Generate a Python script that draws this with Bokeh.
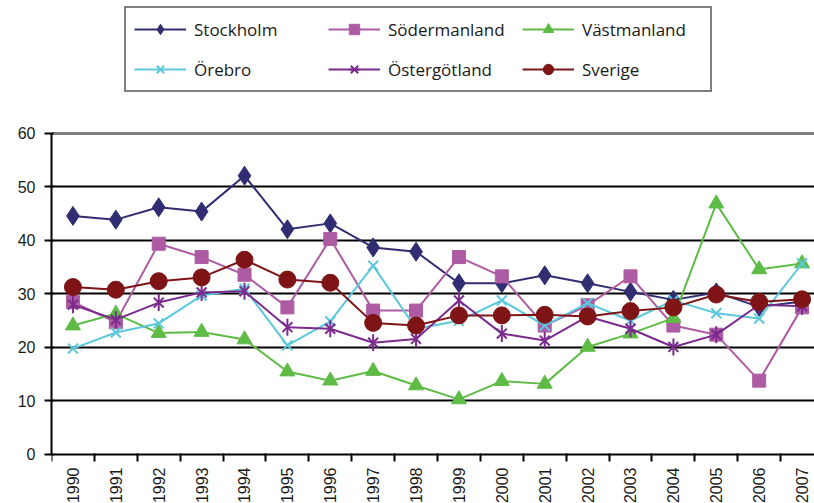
from bokeh.plotting import figure
from bokeh.models import Range1d, FixedTicker, Grid, Legend, LegendItem
from bokeh.embed import file_html
from bokeh.resources import INLINE
import math

years = list(range(1990, 2008))
stockholm = [44.6, 43.9, 46.2, 45.4, 52.1, 42.1, 43.2, 38.7, 37.9, 32.0, 32.0, 33.5, 32.0, 30.4, 28.9, 30.3, 27.6, 28.6]
sodermanland = [28.5, 24.7, 39.4, 36.9, 33.6, 27.5, 40.3, 26.9, 26.9, 36.9, 33.3, 24.1, 27.9, 33.3, 24.1, 22.4, 13.8, 27.5]
vastmanland = [24.1, 26.3, 22.7, 22.9, 21.5, 15.5, 13.8, 15.6, 12.9, 10.3, 13.7, 13.2, 20.1, 22.6, 25.5, 46.9, 34.6, 35.7]
orebro = [19.8, 22.8, 24.5, 29.7, 31.0, 20.4, 24.9, 35.3, 23.5, 25.0, 28.8, 24.1, 28.3, 25.0, 28.8, 26.4, 25.4, 35.7]
ostergotland = [28.0, 25.2, 28.4, 30.3, 30.5, 23.8, 23.5, 20.9, 21.6, 28.8, 22.6, 21.3, 25.8, 23.5, 20.1, 22.4, 28.0, 27.7]
sverige = [31.3, 30.8, 32.4, 33.1, 36.4, 32.7, 32.1, 24.6, 24.1, 26.0, 26.0, 26.1, 25.8, 26.8, 27.5, 29.9, 28.5, 29.0]
y_ticks = [0, 10, 20, 30, 40, 50, 60]

p = figure(width=814, height=503, output_backend="svg", toolbar_location=None,
           x_range=Range1d(1989.5, 2007.29), y_range=Range1d(-9.16, 84.86),
           min_border_left=51, min_border_right=0, min_border_top=0, min_border_bottom=0,
           outline_line_color=None, background_fill_color="white")

p.xgrid.visible = False
p.ygrid.ticker = FixedTicker(ticks=y_ticks[1:-1])
p.ygrid.grid_line_color = "black"
p.ygrid.grid_line_width = 2
top_grid = Grid(dimension=1, ticker=FixedTicker(ticks=[60]), grid_line_color="#808080", grid_line_width=3)
p.add_layout(top_grid)

xa = p.xaxis[0]
xa.fixed_location = 0
xa.ticker = FixedTicker(ticks=years, minor_ticks=[y - 0.5 for y in years] + [years[-1] + 0.5])
xa.major_tick_out = 0
xa.major_tick_in = 0
xa.minor_tick_out = 7
xa.minor_tick_in = 1
xa.minor_tick_line_color = "black"
xa.minor_tick_line_width = 2
xa.axis_line_color = "black"
xa.axis_line_width = 2
xa.major_label_orientation = math.pi / 2
xa.major_label_standoff = 6
xa.major_label_text_font = "Liberation Sans"
xa.major_label_text_font_size = "16px"
xa.major_label_text_color = "#1a1a1a"

ya = p.yaxis[0]
ya.bounds = (0, 60)
ya.ticker = FixedTicker(ticks=y_ticks)
ya.major_tick_out = 7
ya.major_tick_in = 2
ya.major_tick_line_width = 2
ya.major_tick_line_color = "black"
ya.minor_tick_line_color = None
ya.axis_line_width = 2
ya.axis_line_color = "black"
ya.major_label_standoff = 9
ya.major_label_text_font = "Liberation Sans"
ya.major_label_text_font_size = "16px"
ya.major_label_text_color = "#1a1a1a"

series = [
    ("Stockholm", stockholm, "#312D72", "diamond", 19),
    ("Södermanland", sodermanland, "#AD5CA3", "square", 13),
    ("Västmanland", vastmanland, "#5DBB46", "triangle", 15),
    ("Örebro", orebro, "#5BC8DC", "x", 14),
    ("Östergötland", ostergotland, "#7B2A8E", "asterisk", 14),
    ("Sverige", sverige, "#7E1416", "circle", 17),
]

items = []
for name, vals, col, marker, size in series:
    rl = p.line(years, vals, line_color=col, line_width=2)
    rends = [rl]
    if marker == "asterisk":
        r1 = p.scatter(years, vals, marker="x", size=size, line_color=col, line_width=2)
        r2 = p.scatter(years, vals, marker="dash", angle=math.pi / 2, size=size + 3, line_color=col, line_width=2)
        rends += [r1, r2]
    elif marker == "x":
        r1 = p.scatter(years, vals, marker="x", size=size, line_color=col, line_width=2)
        rends.append(r1)
    else:
        r1 = p.scatter(years, vals, marker=marker, size=size, fill_color=col, line_color=col, line_width=1)
        rends.append(r1)
    items.append(LegendItem(label=name, renderers=rends))

legend = Legend(items=items, location=(73, 411), orientation="horizontal", nrows=2,
                border_line_color="black", border_line_width=2,
                background_fill_color="white", background_fill_alpha=1,
                label_text_font="Open Sans", label_text_font_size="17px", label_text_color="#1a1a1a",
                glyph_width=52, glyph_height=26, label_height=26, label_width=120,
                label_standoff=8, spacing=14, padding=8, margin=0)
p.add_layout(legend)

open("out.html", "w").write(file_html(p, INLINE))
